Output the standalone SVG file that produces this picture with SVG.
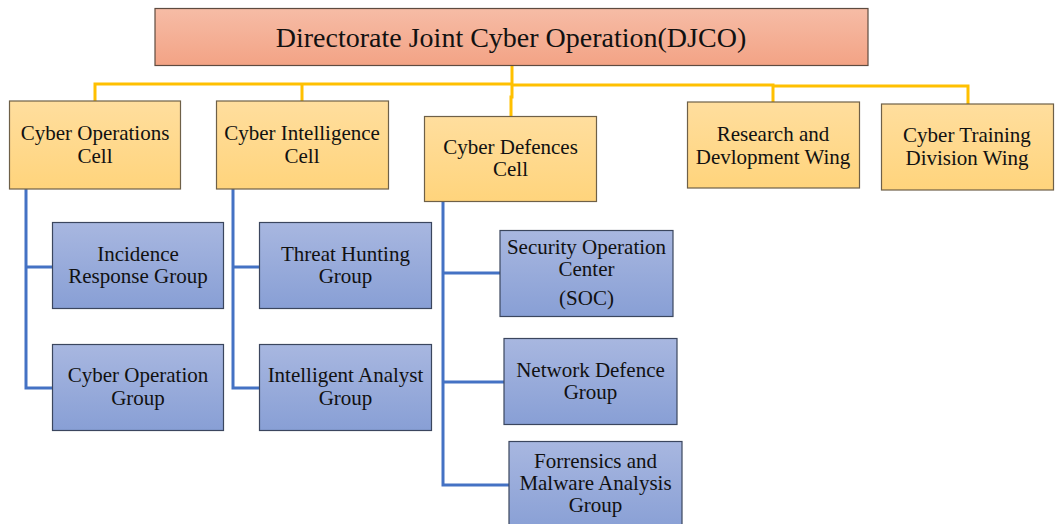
<svg xmlns="http://www.w3.org/2000/svg" width="1056" height="524" viewBox="0 0 1056 524">
<defs>
<linearGradient id="gTop" x1="0" y1="0" x2="0" y2="1"><stop offset="0" stop-color="#F6BCA6"/><stop offset="1" stop-color="#F3A385"/></linearGradient>
<linearGradient id="gY" x1="0" y1="0" x2="0" y2="1"><stop offset="0" stop-color="#FFDE9E"/><stop offset="1" stop-color="#FFD47C"/></linearGradient>
<linearGradient id="gB" x1="0" y1="0" x2="0" y2="1"><stop offset="0" stop-color="#A8B7E0"/><stop offset="1" stop-color="#889FD5"/></linearGradient>
</defs>
<style>
.top{fill:url(#gTop);stroke:#5E4B40;stroke-width:1.2}
.y{fill:url(#gY);stroke:#6E6048;stroke-width:1.2}
.b{fill:url(#gB);stroke:#3B465E;stroke-width:1.2}
.yl{fill:none;stroke:#FFC000;stroke-width:3}
.bl{fill:none;stroke:#4472C4;stroke-width:3}
svg g text.s{font-family:"Liberation Serif",serif !important}
</style>
<rect width="1056" height="524" fill="#fff"/>
<g id="connectors">
<path class="yl" d="M512 65 V84"/>
<path class="yl" d="M95 101 V84 H512 M302 84 V101"/>
<path class="yl" d="M512 85 H773 V102 M773 86 H968 V104"/>
<path class="yl" d="M512 84 V97 H511 V116"/>
<path class="bl" d="M26 189 V388 H52 M26 267 H52"/>
<path class="bl" d="M233 189 V388 H259 M233 267 H259"/>
<path class="bl" d="M443 201 V485 H509 M443 273 H500 M443 382 H504"/>
</g>
<g id="djco"><rect class="top" x="155" y="8.5" width="713" height="57"/><text class="s" style="font-family:'Liberation Serif',serif !important" font-family="Liberation Serif" font-size="28" fill="#111" text-anchor="middle" x="511" y="46.5">Directorate Joint Cyber Operation(DJCO)</text></g>
<g id="ops-cell"><rect class="y" x="9.5" y="101" width="171" height="88"/><text class="s" style="font-family:'Liberation Serif',serif !important" font-family="Liberation Serif" font-size="21" fill="#111" text-anchor="middle" x="95" y="139.5">Cyber Operations</text><text class="s" style="font-family:'Liberation Serif',serif !important" font-family="Liberation Serif" font-size="21" fill="#111" text-anchor="middle" x="95" y="162.5">Cell</text></g>
<g id="intel-cell"><rect class="y" x="216.5" y="101" width="172" height="88"/><text class="s" style="font-family:'Liberation Serif',serif !important" font-family="Liberation Serif" font-size="21" fill="#111" text-anchor="middle" x="302" y="139.5">Cyber Intelligence</text><text class="s" style="font-family:'Liberation Serif',serif !important" font-family="Liberation Serif" font-size="21" fill="#111" text-anchor="middle" x="302" y="162.5">Cell</text></g>
<g id="def-cell"><rect class="y" x="424.5" y="116.5" width="172" height="85"/><text class="s" style="font-family:'Liberation Serif',serif !important" font-family="Liberation Serif" font-size="21" fill="#111" text-anchor="middle" x="510.5" y="153.5">Cyber Defences</text><text class="s" style="font-family:'Liberation Serif',serif !important" font-family="Liberation Serif" font-size="21" fill="#111" text-anchor="middle" x="510.5" y="175.5">Cell</text></g>
<g id="rnd"><rect class="y" x="687.5" y="102" width="172" height="86"/><text class="s" style="font-family:'Liberation Serif',serif !important" font-family="Liberation Serif" font-size="21" fill="#111" text-anchor="middle" x="773" y="140.5">Research and</text><text class="s" style="font-family:'Liberation Serif',serif !important" font-family="Liberation Serif" font-size="21" fill="#111" text-anchor="middle" x="773" y="163.5">Devlopment Wing</text></g>
<g id="training"><rect class="y" x="881.5" y="104" width="172" height="86"/><text class="s" style="font-family:'Liberation Serif',serif !important" font-family="Liberation Serif" font-size="21" fill="#111" text-anchor="middle" x="967" y="142">Cyber Training</text><text class="s" style="font-family:'Liberation Serif',serif !important" font-family="Liberation Serif" font-size="21" fill="#111" text-anchor="middle" x="967" y="164.5">Division Wing</text></g>
<g id="incidence"><rect class="b" x="52.5" y="222.5" width="171" height="86"/><text class="s" style="font-family:'Liberation Serif',serif !important" font-family="Liberation Serif" font-size="21" fill="#111" text-anchor="middle" x="138" y="261">Incidence</text><text class="s" style="font-family:'Liberation Serif',serif !important" font-family="Liberation Serif" font-size="21" fill="#111" text-anchor="middle" x="138" y="283">Response Group</text></g>
<g id="cyber-op-group"><rect class="b" x="52.5" y="344.5" width="171" height="86"/><text class="s" style="font-family:'Liberation Serif',serif !important" font-family="Liberation Serif" font-size="21" fill="#111" text-anchor="middle" x="138" y="382">Cyber Operation</text><text class="s" style="font-family:'Liberation Serif',serif !important" font-family="Liberation Serif" font-size="21" fill="#111" text-anchor="middle" x="138" y="405">Group</text></g>
<g id="threat"><rect class="b" x="259.5" y="222.5" width="172" height="86"/><text class="s" style="font-family:'Liberation Serif',serif !important" font-family="Liberation Serif" font-size="21" fill="#111" text-anchor="middle" x="345.5" y="261">Threat Hunting</text><text class="s" style="font-family:'Liberation Serif',serif !important" font-family="Liberation Serif" font-size="21" fill="#111" text-anchor="middle" x="345.5" y="283">Group</text></g>
<g id="analyst"><rect class="b" x="259.5" y="344.5" width="172" height="86"/><text class="s" style="font-family:'Liberation Serif',serif !important" font-family="Liberation Serif" font-size="21" fill="#111" text-anchor="middle" x="345.5" y="382">Intelligent Analyst</text><text class="s" style="font-family:'Liberation Serif',serif !important" font-family="Liberation Serif" font-size="21" fill="#111" text-anchor="middle" x="345.5" y="405">Group</text></g>
<g id="soc"><rect class="b" x="500" y="230.5" width="173" height="86"/><text class="s" style="font-family:'Liberation Serif',serif !important" font-family="Liberation Serif" font-size="21" fill="#111" text-anchor="middle" x="586.5" y="253.5">Security Operation</text><text class="s" style="font-family:'Liberation Serif',serif !important" font-family="Liberation Serif" font-size="21" fill="#111" text-anchor="middle" x="586.5" y="276">Center</text><text class="s" style="font-family:'Liberation Serif',serif !important" font-family="Liberation Serif" font-size="21" fill="#111" text-anchor="middle" x="586.5" y="305">(SOC)</text></g>
<g id="netdef"><rect class="b" x="504" y="338.5" width="173" height="86"/><text class="s" style="font-family:'Liberation Serif',serif !important" font-family="Liberation Serif" font-size="21" fill="#111" text-anchor="middle" x="590.5" y="376.5">Network Defence</text><text class="s" style="font-family:'Liberation Serif',serif !important" font-family="Liberation Serif" font-size="21" fill="#111" text-anchor="middle" x="590.5" y="398.5">Group</text></g>
<g id="forensics"><rect class="b" x="509" y="441.5" width="173" height="90"/><text class="s" style="font-family:'Liberation Serif',serif !important" font-family="Liberation Serif" font-size="21" fill="#111" text-anchor="middle" x="595.5" y="467.5">Forrensics and</text><text class="s" style="font-family:'Liberation Serif',serif !important" font-family="Liberation Serif" font-size="21" fill="#111" text-anchor="middle" x="595.5" y="490">Malware Analysis</text><text class="s" style="font-family:'Liberation Serif',serif !important" font-family="Liberation Serif" font-size="21" fill="#111" text-anchor="middle" x="595.5" y="512">Group</text></g>
</svg>
